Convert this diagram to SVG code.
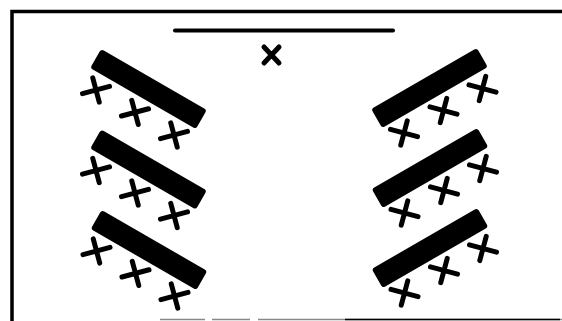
<svg xmlns="http://www.w3.org/2000/svg" xmlns:xlink="http://www.w3.org/1999/xlink" width="562" height="321" viewBox="0 0 562 321">
  <style>
    .frame { stroke: #000; stroke-width: 3.5; fill: none; }
    .floor { stroke: #888; stroke-width: 1.5; fill: none; }
    .board { stroke: #000; stroke-width: 4; stroke-linecap: round; }
    .table { fill: #000; }
    .mark { stroke: #000; stroke-width: 5; stroke-linecap: round; fill: none; }
  </style>
  <defs>
    <path id="cross" class="mark" d="M-14,0 H14 M0,-12.5 V12.5"/>
    <rect id="desk" class="table" x="-61" y="-11" width="122" height="22" rx="3"/>
  </defs>
  <rect width="562" height="321" fill="#fff"/>

  <g id="room">
    <path class="frame" d="M12,321 V11.5 H562"/>
    <path class="floor" d="M160,319.5 H205 M212,319.5 H250 M258,319.5 H562"/>
    <path d="M345,319.5 H560" stroke="#000" stroke-width="1.5"/>
  </g>

  <g id="blackboard">
    <line class="board" x1="175" y1="30.5" x2="393" y2="30.5"/>
  </g>

  <g id="teacher">
    <path class="mark" d="M264,47 L279,63 M279,47 L264,63"/>
  </g>

  <g id="table-left-1">
    <use xlink:href="#desk" transform="translate(148.5,89) rotate(30)"/>
    <use xlink:href="#cross" transform="translate(96,90) rotate(-15)"/>
    <use xlink:href="#cross" transform="translate(135,112.4) rotate(-15)"/>
    <use xlink:href="#cross" transform="translate(174,135) rotate(-15)"/>
  </g>
  <g id="table-left-2">
    <use xlink:href="#desk" transform="translate(148.5,169.5) rotate(30)"/>
    <use xlink:href="#cross" transform="translate(96,170.5) rotate(-15)"/>
    <use xlink:href="#cross" transform="translate(135,193) rotate(-15)"/>
    <use xlink:href="#cross" transform="translate(174,215.5) rotate(-15)"/>
  </g>
  <g id="table-left-3">
    <use xlink:href="#desk" transform="translate(149,250) rotate(30)"/>
    <use xlink:href="#cross" transform="translate(96.5,251) rotate(-15)"/>
    <use xlink:href="#cross" transform="translate(135.5,273.4) rotate(-15)"/>
    <use xlink:href="#cross" transform="translate(174.5,296) rotate(-15)"/>
  </g>

  <g id="table-right-1">
    <use xlink:href="#desk" transform="translate(429.5,88) rotate(-30)"/>
    <use xlink:href="#cross" transform="translate(404,133) rotate(15)"/>
    <use xlink:href="#cross" transform="translate(443.5,110.5) rotate(15)"/>
    <use xlink:href="#cross" transform="translate(482.5,88.5) rotate(15)"/>
  </g>
  <g id="table-right-2">
    <use xlink:href="#desk" transform="translate(430,168) rotate(-30)"/>
    <use xlink:href="#cross" transform="translate(404.5,213) rotate(15)"/>
    <use xlink:href="#cross" transform="translate(444,190.5) rotate(15)"/>
    <use xlink:href="#cross" transform="translate(483,168.5) rotate(15)"/>
  </g>
  <g id="table-right-3">
    <use xlink:href="#desk" transform="translate(430,248) rotate(-30)"/>
    <use xlink:href="#cross" transform="translate(404.5,293) rotate(15)"/>
    <use xlink:href="#cross" transform="translate(444,270.5) rotate(15)"/>
    <use xlink:href="#cross" transform="translate(483,248.5) rotate(15)"/>
  </g>
</svg>
